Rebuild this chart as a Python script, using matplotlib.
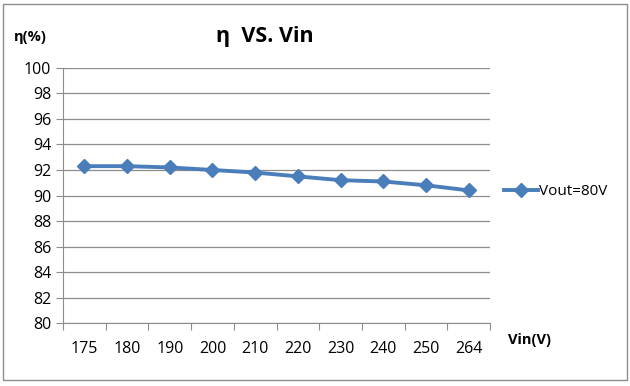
import matplotlib.pyplot as plt
import numpy as np
from matplotlib.patches import Rectangle

plt.rcParams['font.family'] = ['Open Sans', 'DejaVu Sans']

vin = ['175', '180', '190', '200', '210', '220', '230', '240', '250', '264']
eff = [92.3, 92.3, 92.2, 92.0, 91.8, 91.5, 91.2, 91.1, 90.8, 90.4]

fig = plt.figure(figsize=(6.3, 3.86), dpi=100)
ax = fig.add_axes([0.1, 0.163, 0.678, 0.661])

x = np.arange(len(vin))
ax.plot(x, eff, marker='D', color='#4A7EBB', linewidth=2.8, markersize=7,
        label='Vout=80V')

ax.set_xlim(-0.5, len(vin) - 0.5)
ax.set_ylim(80, 100)
ax.set_yticks(np.arange(80, 101, 2))
ax.yaxis.grid(True, color='#8c8c8c', linewidth=0.9)
ax.set_axisbelow(True)

ax.set_xticks(np.arange(-0.5, len(vin), 1))
ax.set_xticklabels([])
ax.set_xticks(x, minor=True)
ax.set_xticklabels(vin, minor=True)
ax.tick_params(axis='x', which='minor', length=0, labelsize=11.5, pad=13)
ax.tick_params(axis='x', which='major', length=5, color='#8c8c8c', direction='out')
ax.tick_params(axis='y', length=5, color='#8c8c8c', labelsize=11.5)

for s in ['top', 'right']:
    ax.spines[s].set_visible(False)
for s in ['left', 'bottom']:
    ax.spines[s].set_color('#8c8c8c')

fig.text(0.42, 0.905, 'η  VS. Vin', fontsize=15.5, fontweight='bold', ha='center', va='center')
fig.text(0.048, 0.905, 'η(%)', fontsize=10.5, fontweight='bold', ha='center', va='center')
fig.text(0.84, 0.12, 'Vin(V)', fontsize=10.5, fontweight='bold', ha='center', va='center')

ax.legend(loc='center left', bbox_to_anchor=(1.0, 0.514), frameon=False,
          fontsize=11, handlelength=2.2, handletextpad=0.1)

fig.patches.append(Rectangle((0.005, 0.015), 0.99, 0.975, transform=fig.transFigure,
                             fill=False, edgecolor='#8c8c8c', linewidth=1))

plt.savefig('out.png', dpi=100)
